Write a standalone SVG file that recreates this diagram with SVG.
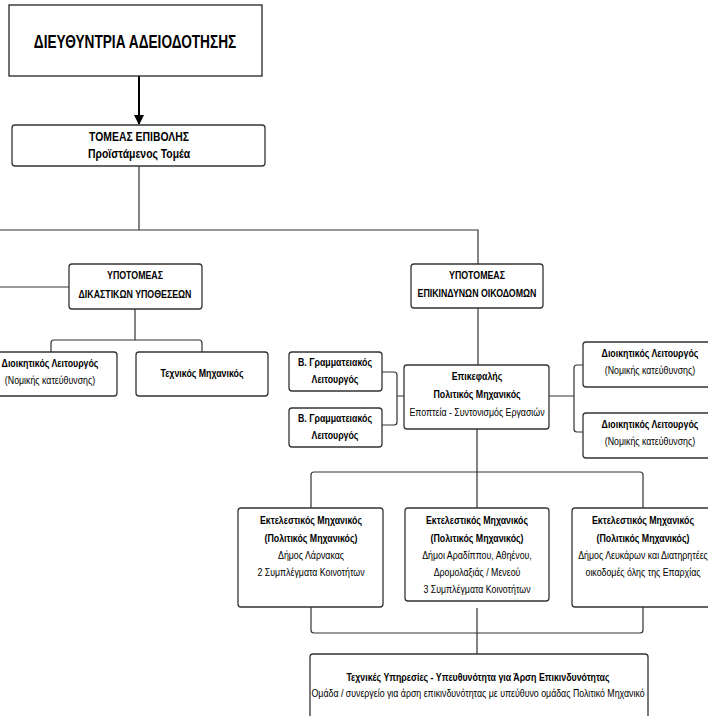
<svg xmlns="http://www.w3.org/2000/svg" width="708" height="716" viewBox="0 0 708 716">
<defs>
<marker id="arr" viewBox="0 0 10 10" refX="9" refY="5" markerWidth="5" markerHeight="5" orient="auto" markerUnits="strokeWidth">
<path d="M0,0 L10,5 L0,10 z" fill="#000"/>
</marker>
</defs>
<style>
.box{fill:#fff;stroke:#333;stroke-width:1.3}
.conn{fill:none;stroke:#333;stroke-width:1.2}
text{font-family:'Liberation Sans',Arial,sans-serif;font-size:11px;fill:#000;text-anchor:middle;transform-box:fill-box;transform-origin:center;transform:scaleX(0.8)}
.b{font-weight:bold}
.m{font-size:13px;font-weight:bold}
.t{font-size:18px;font-weight:bold;transform:scaleX(0.76)}
</style>
<rect width="708" height="716" fill="#fff"/>
<g id="connectors">
<line x1="139" y1="76" x2="139" y2="124" stroke="#000" stroke-width="2" marker-end="url(#arr)"/>
<path class="conn" d="M139,166 V230 M0,230 H478 V264"/>
<path class="conn" d="M0,287 H69"/>
<path class="conn" d="M135,309 V340 M51,352 V343 Q51,340 54,340 H199 Q202,340 202,343 V352"/>
<path class="conn" d="M478,308 V365"/>
<path class="conn" d="M382,372 H394 Q397,372 397,375 V422 Q397,425 394,425 H382 M404,396 H397"/>
<path class="conn" d="M583,365 H577 Q574,365 574,368 V429 Q574,432 577,432 H583 M549,396 H574"/>
<path class="conn" d="M477,429 V472 M311,508 V475 Q311,472 314,472 H640 Q643,472 643,475 V508 M477,472 V508"/>
<path class="conn" d="M311,607 V630 Q311,633 314,633 H640 Q643,633 643,630 V607 M477,608 V654"/>
</g>
<g id="n-dir">
<rect x="9" y="5" width="253" height="71" fill="#fff" stroke="#222" stroke-width="1.3"/>
<text class="t" x="135" y="48">ΔΙΕΥΘΥΝΤΡΙΑ ΑΔΕΙΟΔΟΤΗΣΗΣ</text>
</g>
<g id="n-tomeas">
<rect class="box" x="12" y="125" width="253" height="41" rx="3"/>
<text class="m" x="139" y="141">ΤΟΜΕΑΣ ΕΠΙΒΟΛΗΣ</text>
<text class="m" x="139" y="158">Προϊστάμενος Τομέα</text>
</g>
<g id="n-dikastikon">
<rect class="box" x="69" y="264" width="133" height="45" rx="3"/>
<text class="b" x="135" y="279">ΥΠΟΤΟΜΕΑΣ</text>
<text class="b" x="135" y="298">ΔΙΚΑΣΤΙΚΩΝ ΥΠΟΘΕΣΕΩΝ</text>
</g>
<g id="n-dioik-left">
<rect class="box" x="-17" y="352" width="134" height="44" rx="3"/>
<text class="b" x="50" y="367">Διοικητικός Λειτουργός</text>
<text x="50" y="384">(Νομικής κατεύθυνσης)</text>
</g>
<g id="n-texnikos">
<rect class="box" x="136" y="352" width="132" height="44" rx="3"/>
<text class="b" x="202" y="377">Τεχνικός Μηχανικός</text>
</g>
<g id="n-epikindynon">
<rect class="box" x="411" y="264" width="132" height="44" rx="3"/>
<text class="b" x="477" y="279">ΥΠΟΤΟΜΕΑΣ</text>
<text class="b" x="477" y="297">ΕΠΙΚΙΝΔΥΝΩΝ ΟΙΚΟΔΟΜΩΝ</text>
</g>
<g id="n-gram1">
<rect class="box" x="289" y="352" width="93" height="39" rx="3"/>
<text class="b" x="335" y="366">Β. Γραμματειακός</text>
<text class="b" x="335" y="383">Λειτουργός</text>
</g>
<g id="n-gram2">
<rect class="box" x="289" y="408" width="93" height="39" rx="3"/>
<text class="b" x="335" y="422">Β. Γραμματειακός</text>
<text class="b" x="335" y="439">Λειτουργός</text>
</g>
<g id="n-epikefalis">
<rect class="box" x="404" y="365" width="145" height="64" rx="3"/>
<text class="b" x="477" y="380">Επικεφαλής</text>
<text class="b" x="477" y="398">Πολιτικός Μηχανικός</text>
<text x="477" y="416">Εποπτεία - Συντονισμός Εργασιών</text>
</g>
<g id="n-dioik-r1">
<rect class="box" x="583" y="342" width="134" height="45" rx="3"/>
<text class="b" x="650" y="357">Διοικητικός Λειτουργός</text>
<text x="650" y="374">(Νομικής κατεύθυνσης)</text>
</g>
<g id="n-dioik-r2">
<rect class="box" x="583" y="413" width="134" height="45" rx="3"/>
<text class="b" x="650" y="428">Διοικητικός Λειτουργός</text>
<text x="650" y="445">(Νομικής κατεύθυνσης)</text>
</g>
<g id="n-ekt1">
<rect class="box" x="238" y="508" width="145" height="99" rx="3"/>
<text class="b" x="311" y="524">Εκτελεστικός Μηχανικός</text>
<text class="b" x="311" y="542">(Πολιτικός Μηχανικός)</text>
<text x="311" y="559">Δήμος Λάρνακας</text>
<text x="311" y="576">2 Συμπλέγματα Κοινοτήτων</text>
</g>
<g id="n-ekt2">
<rect class="box" x="405" y="508" width="144" height="93" rx="3"/>
<text class="b" x="477" y="524">Εκτελεστικός Μηχανικός</text>
<text class="b" x="477" y="542">(Πολιτικός Μηχανικός)</text>
<text x="477" y="559">Δήμοι Αραδίππου, Αθηένου,</text>
<text x="477" y="576">Δρομολαξιάς / Μενεού</text>
<text x="477" y="593">3 Συμπλέγματα Κοινοτήτων</text>
</g>
<g id="n-ekt3">
<rect class="box" x="572" y="508" width="142" height="99" rx="3"/>
<text class="b" x="643" y="524">Εκτελεστικός Μηχανικός</text>
<text class="b" x="643" y="542">(Πολιτικός Μηχανικός)</text>
<text x="643" y="559">Δήμος Λευκάρων και Διατηρητέες</text>
<text x="643" y="576">οικοδομές όλης της Επαρχίας</text>
</g>
<g id="n-texnikes">
<rect class="box" x="310" y="654" width="338" height="80" rx="3"/>
<text class="b" x="478" y="681">Τεχνικές Υπηρεσίες - Υπευθυνότητα για Άρση Επικινδυνότητας</text>
<text x="478" y="697">Ομάδα / συνεργείο για άρση επικινδυνότητας με υπεύθυνο ομάδας Πολιτικό Μηχανικό</text>
</g>
</svg>
